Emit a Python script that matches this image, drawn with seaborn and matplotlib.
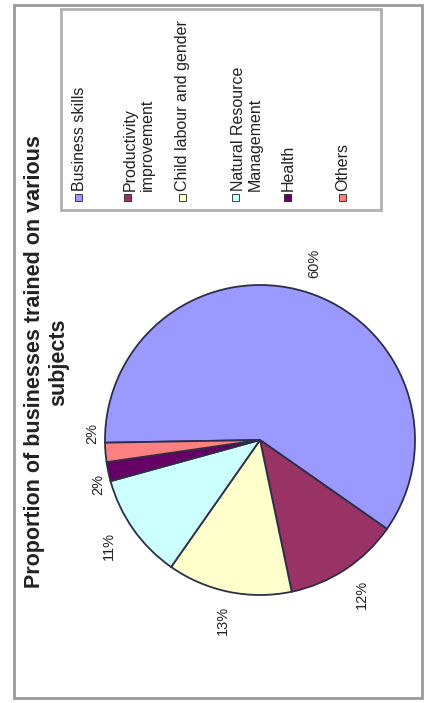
import matplotlib
matplotlib.use("Agg")
import matplotlib.pyplot as plt
import seaborn as sns
from matplotlib.patches import Rectangle
import numpy as np

sns.set_theme(style="white")
plt.rcParams['font.family'] = ['Liberation Sans', 'DejaVu Sans']

title = "Proportion of businesses trained on various\nsubjects"
categories = ["Business skills", "Productivity\nimprovement", "Child labour and gender",
              "Natural Resource\nManagement", "Health", "Others"]
values = [60, 12, 13, 11, 2, 2]
colors = ["#9999FF", "#993366", "#FFFFCC", "#CCFFFF", "#660066", "#FF8080"]

W, H = 427, 703
fig = plt.figure(figsize=(W / 100, H / 100), dpi=100)
fig.patch.set_facecolor("white")

def fx(px):
    return px / W

def fy(py):
    return 1 - py / H

# outer chart frame
fig.add_artist(Rectangle((fx(14), fy(698)), fx(422) - fx(14), fy(5) - fy(698),
                         transform=fig.transFigure, fill=False, edgecolor="#9a9a9a", lw=2))

# pie (drawn rotated: chart is turned 90 degrees counter-clockwise)
cx, cy, r = 260, 440, 155
ax = fig.add_axes([fx(cx - r), fy(cy + r), 2 * r / W, 2 * r / H])
wedges, texts, autotexts = ax.pie(
    values, colors=colors, startangle=181, counterclock=False,
    autopct="%1.0f%%", pctdistance=1.19,
    wedgeprops=dict(edgecolor="#2e2e48", linewidth=1.3),
    textprops=dict(rotation=90, fontsize=10.5, color="#222222", va="center", ha="center"))
ax.set_xlim(-1, 1)
ax.set_ylim(-1, 1)
ax.set_aspect("equal")
ax.axis("off")

# spread the labels of the two thin slices apart
for t, d in zip(autotexts[-2:], [0.063, -0.12]):
    x, y = t.get_position()
    ang = np.arctan2(y, x) + d
    t.set_position((1.08 * np.cos(ang), 1.08 * np.sin(ang)))

# title (rotated)
fig.text(fx(47), fy(362), title, rotation=90, ha="center", va="center",
         fontsize=15.5, fontweight="bold", color="#222222", linespacing=1.2,
         multialignment="center")

# legend box (rotated)
lx0, lx1, ly0, ly1 = 61, 381, 9, 210
fig.add_artist(Rectangle((fx(lx0), fy(ly1)), fx(lx1) - fx(lx0), fy(ly0) - fy(ly1),
                         transform=fig.transFigure, fill=False, edgecolor="#b0b0b0", lw=2))
col_x = [79, 139, 183, 247, 288, 343]
msize = 7
for cat, col, x in zip(categories, colors, col_x):
    nlines = cat.count("\n") + 1
    first_x = x - (nlines - 1) * 11.5
    fig.add_artist(Rectangle((fx(first_x - msize / 2), fy(201)), msize / W, msize / H,
                             transform=fig.transFigure, facecolor=col,
                             edgecolor="#222222", lw=0.6))
    fig.text(fx(x), fy(191), cat, rotation=90, ha="center", va="bottom",
             fontsize=11.5, color="#222222", linespacing=1.15, multialignment="left")

fig.savefig("out.png", dpi=100, facecolor="white")
